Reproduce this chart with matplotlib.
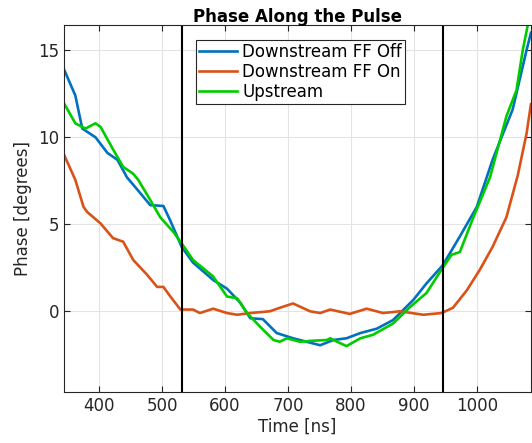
import matplotlib
matplotlib.use('Agg')
import matplotlib.pyplot as plt

# Downstream FF Off
t_off = [344, 362, 373, 394, 413, 429, 444, 465, 481, 502, 513, 531, 549, 581, 603, 624,
         640, 660, 682, 708, 751, 772, 793, 815, 841, 867, 899, 920, 946, 973, 1000,
         1025, 1057, 1079, 1086]
p_off = [13.9, 12.4, 10.5, 10.0, 9.1, 8.7, 7.7, 6.8, 6.1, 6.05, 5.2, 3.7, 2.8, 1.8, 1.3, 0.5,
         -0.4, -0.45, -1.25, -1.55, -1.95, -1.65, -1.55, -1.25, -1.0, -0.5, 0.65, 1.6, 2.65, 4.3, 6.0,
         8.7, 11.6, 15.0, 16.0]

# Downstream FF On
t_on = [344, 362, 375, 381, 402, 422, 438, 454, 476, 492, 502, 513, 529, 549, 560, 581,
        603, 619, 640, 671, 687, 708, 735, 751, 767, 798, 825, 851, 878, 915, 944,
        962, 984, 1005, 1025, 1047, 1065, 1079, 1086]
p_on = [9.0, 7.55, 6.0, 5.7, 5.05, 4.2, 4.0, 2.95, 2.1, 1.4, 1.4, 0.85, 0.1, 0.1, -0.1, 0.15,
        -0.1, -0.2, -0.1, 0.0, 0.2, 0.45, 0.0, -0.1, 0.1, -0.15, 0.15, -0.1, 0.0, -0.2, -0.1,
        0.2, 1.2, 2.4, 3.7, 5.4, 7.8, 10.2, 11.9]

# Upstream
t_up = [344, 362, 378, 394, 402, 422, 438, 454, 462, 481, 497, 518, 531, 549, 581, 603,
        619, 635, 656, 677, 687, 698, 719, 735, 762, 767, 778, 793, 815, 835, 867,
        894, 920, 944, 960, 973, 994, 1021, 1047, 1063, 1073, 1081, 1086]
p_up = [11.95, 10.8, 10.5, 10.8, 10.6, 9.3, 8.3, 7.9, 7.55, 6.4, 5.4, 4.55, 3.9, 2.95, 2.0, 0.85,
        0.75, -0.1, -0.9, -1.65, -1.75, -1.55, -1.75, -1.7, -1.65, -1.55, -1.75, -2.0, -1.55, -1.35, -0.7,
        0.25, 1.05, 2.4, 3.25, 3.4, 5.35, 7.7, 11.2, 12.7, 15.0, 16.45, 17.3]

pulse_edges = [531, 946]

plt.rcParams['font.family'] = 'DejaVu Sans'
fig = plt.figure(figsize=(5.32, 4.43), dpi=100)
ax = fig.add_axes([0.1203, 0.1158, 0.8777, 0.8278])

ax.plot(t_off, p_off, color='#0072BD', lw=1.9, label='Downstream FF Off')
ax.plot(t_on, p_on, color='#D95319', lw=1.9, label='Downstream FF On')
ax.plot(t_up, p_up, color='#00CC00', lw=1.9, label='Upstream')
for x in pulse_edges:
    ax.axvline(x, color='black', lw=1.5)

ax.set_xlim(344, 1086)
ax.set_ylim(-4.62, 16.45)
ax.set_xticks([400, 500, 600, 700, 800, 900, 1000])
ax.set_yticks([0, 5, 10, 15])
ax.grid(True, color='#E3E3E3', lw=0.8)
ax.set_axisbelow(True)
ax.tick_params(direction='in', top=True, right=True, labelsize=12, colors='#262626', length=4)
for s in ax.spines.values():
    s.set_color('#262626')
ax.set_xlabel('Time [ns]', fontsize=12, color='#262626', labelpad=2)
ax.set_ylabel('Phase [degrees]', fontsize=12, color='#262626')
ax.set_title('Phase Along the Pulse', fontsize=12, fontweight='bold', pad=2)

leg = ax.legend(loc='upper left', bbox_to_anchor=(0.282, 0.96), fontsize=12, fancybox=False,
                framealpha=1, edgecolor='#262626', borderpad=0.2, labelspacing=0.12,
                handlelength=2.3, handletextpad=0.3, borderaxespad=0)
leg.get_frame().set_linewidth(0.8)

fig.savefig('out.png', dpi=100)
